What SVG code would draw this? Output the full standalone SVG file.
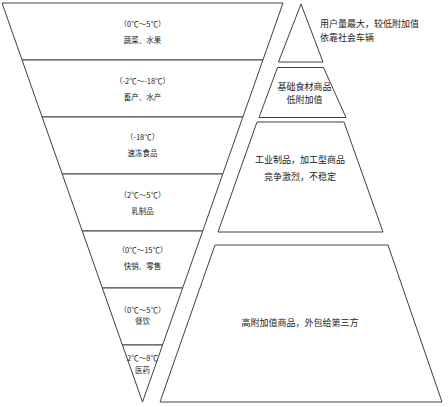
<svg xmlns="http://www.w3.org/2000/svg" width="448" height="407" viewBox="0 0 448 407">
<style>
.s{fill:#fff;stroke:#404040;stroke-width:1}
.t{font-family:"Noto Sans CJK SC","Noto Sans",sans-serif;font-size:7.5px;fill:#222;text-anchor:middle}
.r{font-family:"Noto Sans CJK SC","Noto Sans",sans-serif;font-size:9px;fill:#222;text-anchor:middle}
</style>
<rect width="448" height="407" fill="#fff"/>
<g id="band1"><polygon class="s" points="2,3 283,3 262.93,60 22.07,60"/><text class="t" x="142.5" y="26.7">（0℃～5℃）</text><text class="t" x="142.5" y="42.7">蔬菜、水果</text></g>
<g id="band2"><polygon class="s" points="22.07,60 262.93,60 242.86,117 42.14,117"/><text class="t" x="142.5" y="83.7">（-2℃～-18℃）</text><text class="t" x="142.5" y="99.7">畜产、水产</text></g>
<g id="band3"><polygon class="s" points="42.14,117 242.86,117 222.79,174 62.21,174"/><text class="t" x="142.5" y="139.7">（-18℃）</text><text class="t" x="142.5" y="155.7">速冻食品</text></g>
<g id="band4"><polygon class="s" points="62.21,174 222.79,174 202.72,231 82.28,231"/><text class="t" x="142.5" y="197.7">（2℃～5℃）</text><text class="t" x="142.5" y="213.7">乳制品</text></g>
<g id="band5"><polygon class="s" points="82.28,231 202.72,231 182.65,288 102.35,288"/><text class="t" x="142.5" y="252.7">（0℃～15℃）</text><text class="t" x="142.5" y="269.4">快销、零售</text></g>
<g id="band6"><polygon class="s" points="102.35,288 182.65,288 162.58,345 122.42,345"/><text class="t" x="142.5" y="312.7">（0℃～5℃）</text><text class="t" x="142.5" y="324.4">餐饮</text></g>
<g id="band7"><polygon class="s" points="122.42,345 162.58,345 142.5,402"/><text class="t" x="142.5" y="360.7">2℃～8℃</text><text class="t" x="142.5" y="372.7">医药</text></g>
<g id="level1"><polygon class="s" points="301,4 323,62 278.5,62"/><text class="r" x="320" y="27.3" text-anchor="start" style="text-anchor:start">用户量最大，较低附加值</text><text class="r" x="320" y="41.3" style="text-anchor:start">依靠社会车辆</text></g>
<g id="level2"><polygon class="s" points="277.5,67.5 323.5,67.5 346,117.5 259,117.5"/><text class="r" x="304.5" y="90">基础食材商品</text><text class="r" x="304.5" y="103">低附加值</text></g>
<g id="level3"><polygon class="s" points="257,122 344,122 383,232 218,232"/><text class="r" x="300" y="163">工业制品，加工型商品</text><text class="r" x="300" y="180">竞争激烈，不稳定</text></g>
<g id="level4"><polygon class="s" points="215,245 388,245 442,402 160,402"/><text class="r" x="300" y="326">高附加值商品，外包给第三方</text></g>
<g id="connectors"></g>
</svg>
